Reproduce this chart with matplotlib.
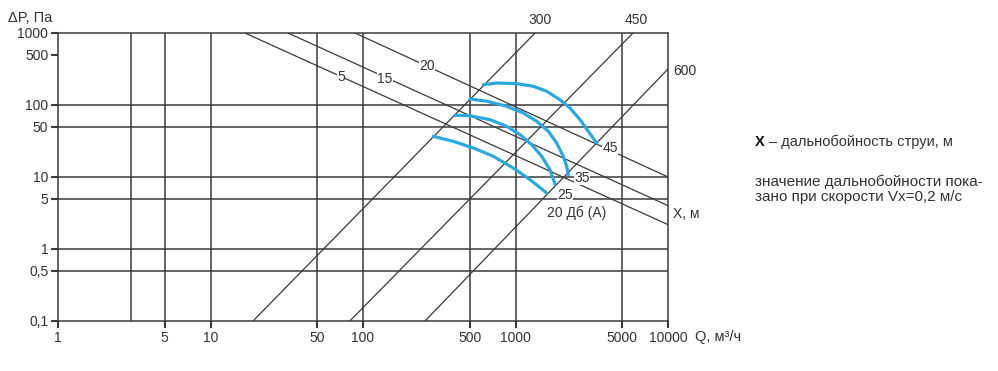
import numpy as np
import matplotlib.pyplot as plt
from matplotlib.ticker import FixedLocator, FixedFormatter, NullLocator

plt.rcParams['font.family'] = ['Liberation Sans', 'DejaVu Sans']

# axis ticks
x_ticks = [1, 5, 10, 50, 100, 500, 1000, 5000, 10000]
x_labels = ['1', '5', '10', '50', '100', '500', '1000', '5000', '10000']
y_ticks = [0.1, 0.5, 1, 5, 10, 50, 100, 500, 1000]
y_labels = ['0,1', '0,5', '1', '5', '10', '50', '100', '500', '1000']
x_grid = [3, 5, 10, 50, 100, 500, 1000, 5000]
y_grid = [0.5, 1, 5, 10, 50, 100]

# network lines (Q, dP endpoints), labels 300 / 450 / 600
sys_names = ['300', '450', '600']
sys_q = [[19.0, 1343], [82, 5893], [255, 10000]]
sys_p = [[0.1, 1000], [0.1, 1000], [0.1, 316]]
sys_lab_q = [1448, 6166, 12900]
sys_lab_p = [1500, 1500, 297]

# throw lines X, m
x_names = ['5', '15', '20']
x_q = [[16.8, 10000], [32.2, 10000], [88.6, 10000]]
x_p = [[1000, 2.18], [1000, 4.0], [1000, 10.0]]
x_lab_q = [71.7, 139, 263]
x_lab_p = [246, 232, 347]

# noise curves (blue)
n_names = ['20 Дб (А)', '25', '35', '45']
n_q = [
    [289, 391, 529, 715, 968, 1245, 1602],
    [401, 503, 680, 876, 1071, 1277, 1485, 1683, 1815],
    [503, 647, 876, 1125, 1377, 1642, 1862, 2057, 2167, 2219],
    [615, 753, 1018, 1309, 1602, 1959, 2277, 2650, 3000, 3407],
]
n_p = [
    [36.7, 31.3, 25.3, 19.4, 13.3, 9.2, 6.0],
    [71.9, 71.0, 62.5, 50.6, 38.7, 28.1, 19.4, 12.6, 8.0],
    [121, 113, 95.9, 77.4, 59.4, 43.2, 29.6, 19.4, 14.1, 10.8],
    [191, 202, 198, 182, 155, 118, 90.9, 62.5, 43.2, 29.6],
]
n_lab_q = [2530, 2113, 2729, 4168]
n_lab_p = [3.2, 5.6, 9.7, 25.3]

line_c = '#3a3a3a'
text_c = '#333333'
blue = '#2aa9e0'

fig = plt.figure(figsize=(9.98, 3.71), dpi=100)
ax = fig.add_axes([58 / 998, 1 - 321 / 371, 610 / 998, 288 / 371])
ax.set_xscale('log')
ax.set_yscale('log')
ax.set_xlim(1, 10000)
ax.set_ylim(0.1, 1000)

for g in x_grid:
    ax.axvline(g, color=line_c, lw=1.1, zorder=1)
for g in y_grid:
    ax.axhline(g, color=line_c, lw=1.1, zorder=1)

for q, p in zip(sys_q, sys_p):
    ax.plot(q, p, color=line_c, lw=0.9, zorder=2)
for q, p in zip(x_q, x_p):
    ax.plot(q, p, color=line_c, lw=0.9, zorder=2)
for q, p in zip(n_q, n_p):
    ax.plot(q, p, color=blue, lw=2.3, zorder=3,
            solid_capstyle='round', solid_joinstyle='round')

lab_kw = dict(fontsize=10, color=text_c, zorder=4)
for name, q, p in zip(sys_names, sys_lab_q, sys_lab_p):
    ax.text(q, p, name, ha='center', va='center', clip_on=False, **lab_kw)
for name, q, p in zip(x_names, x_lab_q, x_lab_p):
    ax.text(q, p, name, ha='center', va='center',
            bbox=dict(fc='white', ec='none', pad=0.3), **lab_kw)
for name, q, p in zip(n_names, n_lab_q, n_lab_p):
    ax.text(q, p, name, ha='center', va='center',
            bbox=dict(fc='white', ec='none', pad=0.3), **lab_kw)
ax.text(10800, 3.1, 'X, м', ha='left', va='center', clip_on=False, **lab_kw)

for s in ax.spines.values():
    s.set_color(line_c)
    s.set_linewidth(1.1)

ax.xaxis.set_major_locator(FixedLocator(x_ticks))
ax.xaxis.set_major_formatter(FixedFormatter(x_labels))
ax.yaxis.set_major_locator(FixedLocator(y_ticks))
ax.yaxis.set_major_formatter(FixedFormatter(y_labels))
ax.xaxis.set_minor_locator(NullLocator())
ax.yaxis.set_minor_locator(NullLocator())
ax.tick_params(axis='both', length=5, width=1.5, color=line_c,
               labelsize=10, labelcolor=text_c, pad=2)

fig.text(8 / 998, 1 - 18 / 371, 'ΔP, Па', fontsize=10.5, color=text_c,
         ha='left', va='center')
fig.text(695 / 998, 1 - 337 / 371, 'Q, м³/ч', fontsize=10.5, color=text_c,
         ha='left', va='center')

# side notes
fig.text(755 / 998, 1 - 142 / 371, 'X', fontsize=10.5, color='#111111',
         ha='left', va='center', fontweight='bold')
fig.text(769 / 998, 1 - 142 / 371, '– дальнобойность струи, м', fontsize=10.5,
         color=text_c, ha='left', va='center')
fig.text(755 / 998, 1 - 182 / 371, 'значение дальнобойности пока-',
         fontsize=11, color=text_c, ha='left', va='center')
fig.text(755 / 998, 1 - 197 / 371, 'зано при скорости Vx=0,2 м/с',
         fontsize=11, color=text_c, ha='left', va='center')

fig.savefig('out.png', dpi=100, facecolor='white')
